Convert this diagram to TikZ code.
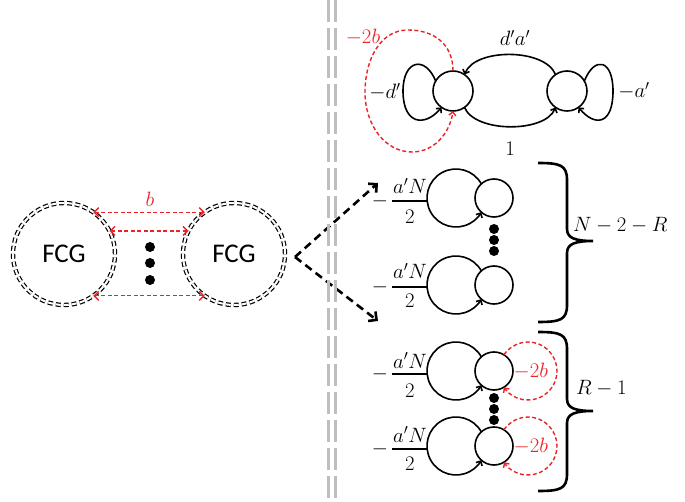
\documentclass[tikz,border=0pt]{standalone}
\usepackage{fontspec}
\newfontfamily\fcgfont{Carlito}
\usetikzlibrary{arrows.meta,calc}
\definecolor{myred}{RGB}{235,35,40}
\definecolor{mygray}{RGB}{190,190,190}
\begin{document}
\begin{tikzpicture}[x=1pt,y=1pt,
  lbl/.style={font=\fontsize{21}{25}\selectfont, inner sep=0pt},
  fcg/.style={circle, draw, double, double distance=2pt, line width=1.2pt,
    dash pattern=on 5pt off 3pt, minimum size=102pt, inner sep=0pt, outer sep=0pt,
    font=\fcgfont\fontsize{27}{30}\selectfont},
  smallc/.style={circle, draw, line width=1.6pt, inner sep=0pt, outer sep=0pt},
  loopline/.style={line width=1.6pt},
  tipend/.style={-{Straight Barb[length=3.5pt,width=7pt]}},
  reddash/.style={draw=myred, line width=1.4pt, dash pattern=on 4pt off 2.5pt},
  redarr/.style={reddash, {Straight Barb[length=4.5pt,width=9pt]}-{Straight Barb[length=4.5pt,width=9pt]}},
  dot/.style={circle, fill, minimum size=10pt, inner sep=0pt},
  bigarr/.style={line width=2.6pt, dash pattern=on 8pt off 5pt, -{Straight Barb[length=6pt,width=12pt]}},
  bracestyle/.style={line width=2.6pt},
  grayline/.style={draw=mygray, line width=3pt, dash pattern=on 22pt off 6pt}
]
\useasboundingbox (0,0) rectangle (685,-502);

% ---------- left part ----------
\node[fcg] (FL) at (64,-254) {FCG};
\node[fcg] (FR) at (234,-254) {FCG};
\draw[redarr] (FL.55) -- (FR.125);
\draw[redarr] (FL.27) -- (FR.153);
\draw[redarr] (FL.-55) -- (FR.-125);
\node[lbl, text=myred] (b) at (150,-199) {$b$};
\node[dot] (ld1) at (150,-247) {};
\node[dot] (ld2) at (150,-263) {};
\node[dot] (ld3) at (150,-280) {};

\coordinate (fork) at (295,-257);
\coordinate (up) at (378,-183);
\coordinate (down) at (378,-321);
\draw[bigarr] (fork) -- (up);
\draw[bigarr] (fork) -- (down);

% ---------- separator ----------
\coordinate (g1t) at (328,0); \coordinate (g1b) at (328,-502);
\coordinate (g2t) at (335,0); \coordinate (g2b) at (335,-502);
\draw[grayline] (g1t) -- (g1b);
\draw[grayline] (g2t) -- (g2b);

% ---------- top figure ----------
\node[smallc, minimum size=40pt] (L) at (453,-91) {};
\node[smallc, minimum size=40pt] (R) at (567,-91) {};
\draw[loopline, tipend] (R.125) .. controls (545,-48) and (475,-48) .. (L.55);
\draw[loopline, tipend] (L.-55) .. controls (475,-133) and (545,-133) .. (R.-125);
\coordinate (lloop) at (403,-91);
\coordinate (rloop) at (613,-91);
\draw[loopline, tipend] (L.150) .. controls (425,-55) and (403,-60) .. (lloop)
   .. controls (403,-125) and (425,-127) .. (L.-125);
\draw[loopline, tipend] (R.30) .. controls (595,-55) and (613,-60) .. (rloop)
   .. controls (613,-125) and (595,-127) .. (R.-55);
\coordinate (rt) at (408,-30);
\coordinate (rl) at (365,-92);
\coordinate (rb) at (412,-152);
\draw[reddash, tipend] (L.90) .. controls (453,-45) and (435,-30) .. (rt)
   .. controls (380,-30) and (365,-60) .. (rl)
   .. controls (365,-125) and (385,-152) .. (rb)
   .. controls (435,-152) and (450,-132) .. (L.-90);
\node[lbl] (dl) at (385,-92) {$-d'$};
\node[lbl] (al) at (634,-91) {$-a'$};
\node[lbl, text=myred] (tb) at (363,-37) {$-2b$};
\node[lbl] (da) at (515,-38) {$d'a'$};
\node[lbl] (one) at (510,-149) {$1$};

% ---------- middle and bottom figures ----------
\foreach \i/\y/\by/\nb/\db in {1/198/201/194/224, 2/285/287/279/308, 3/371/374/368/397, 4/446/449/442/470}{
  \node[smallc, minimum size=38pt] (s\i) at (494,-\y) {};
  \coordinate (c\i) at (456,-\y);
  \draw[loopline, tipend] (c\i) ++(29.3:29pt) arc[start angle=29.3, end angle=330.7, radius=29pt];
  \coordinate (bs\i) at (392,-\by);
  \coordinate (be\i) at (427.5,-\by);
  \draw[line width=1.3pt] (bs\i) -- (be\i);
  \node[lbl, anchor=base] (num\i) at (410,-\nb) {$a'N$};
  \node[lbl, anchor=base] (den\i) at (410,-\db) {$2$};
  \node[lbl] (min\i) at (380,-\by) {$-$};
}
\foreach \i in {3,4}{
  \coordinate (rc\i) at ($(s\i)+(34,0)$);
  \draw[reddash, tipend] (rc\i) ++(146:29pt) arc[start angle=146, end angle=-146, radius=29pt];
  \node[lbl, text=myred, anchor=west] (rb\i) at ($(s\i.east)+(0.5,0)$) {$-2b$};
}
\node[dot] (m1) at (494,-229) {};
\node[dot] (m2) at (494,-240) {};
\node[dot] (m3) at (494,-251) {};
\node[dot] (n1) at (494,-398) {};
\node[dot] (n2) at (494,-409) {};
\node[dot] (n3) at (494,-420) {};

% braces
\coordinate (b1t) at (538,-163);
\coordinate (b1m) at (593,-241);
\coordinate (b1b) at (538,-322);
\draw[bracestyle] (b1t) .. controls (560,-163) and (567,-165) .. (567,-180) -- (567,-229)
   .. controls (567,-238) and (575,-241) .. (b1m)
   .. controls (575,-241) and (567,-244) .. (567,-253) -- (567,-305)
   .. controls (567,-320) and (560,-322) .. (b1b);
\coordinate (b2t) at (538,-332);
\coordinate (b2m) at (593,-411);
\coordinate (b2b) at (538,-491);
\draw[bracestyle] (b2t) .. controls (560,-332) and (567,-334) .. (567,-349) -- (567,-399)
   .. controls (567,-408) and (575,-411) .. (b2m)
   .. controls (575,-411) and (567,-414) .. (567,-423) -- (567,-474)
   .. controls (567,-489) and (560,-491) .. (b2b);
\node[lbl, anchor=west] (lab1) at (573,-225) {$N-2-R$};
\node[lbl, anchor=west] (lab2) at (576,-388) {$R-1$};
\end{tikzpicture}
\end{document}
